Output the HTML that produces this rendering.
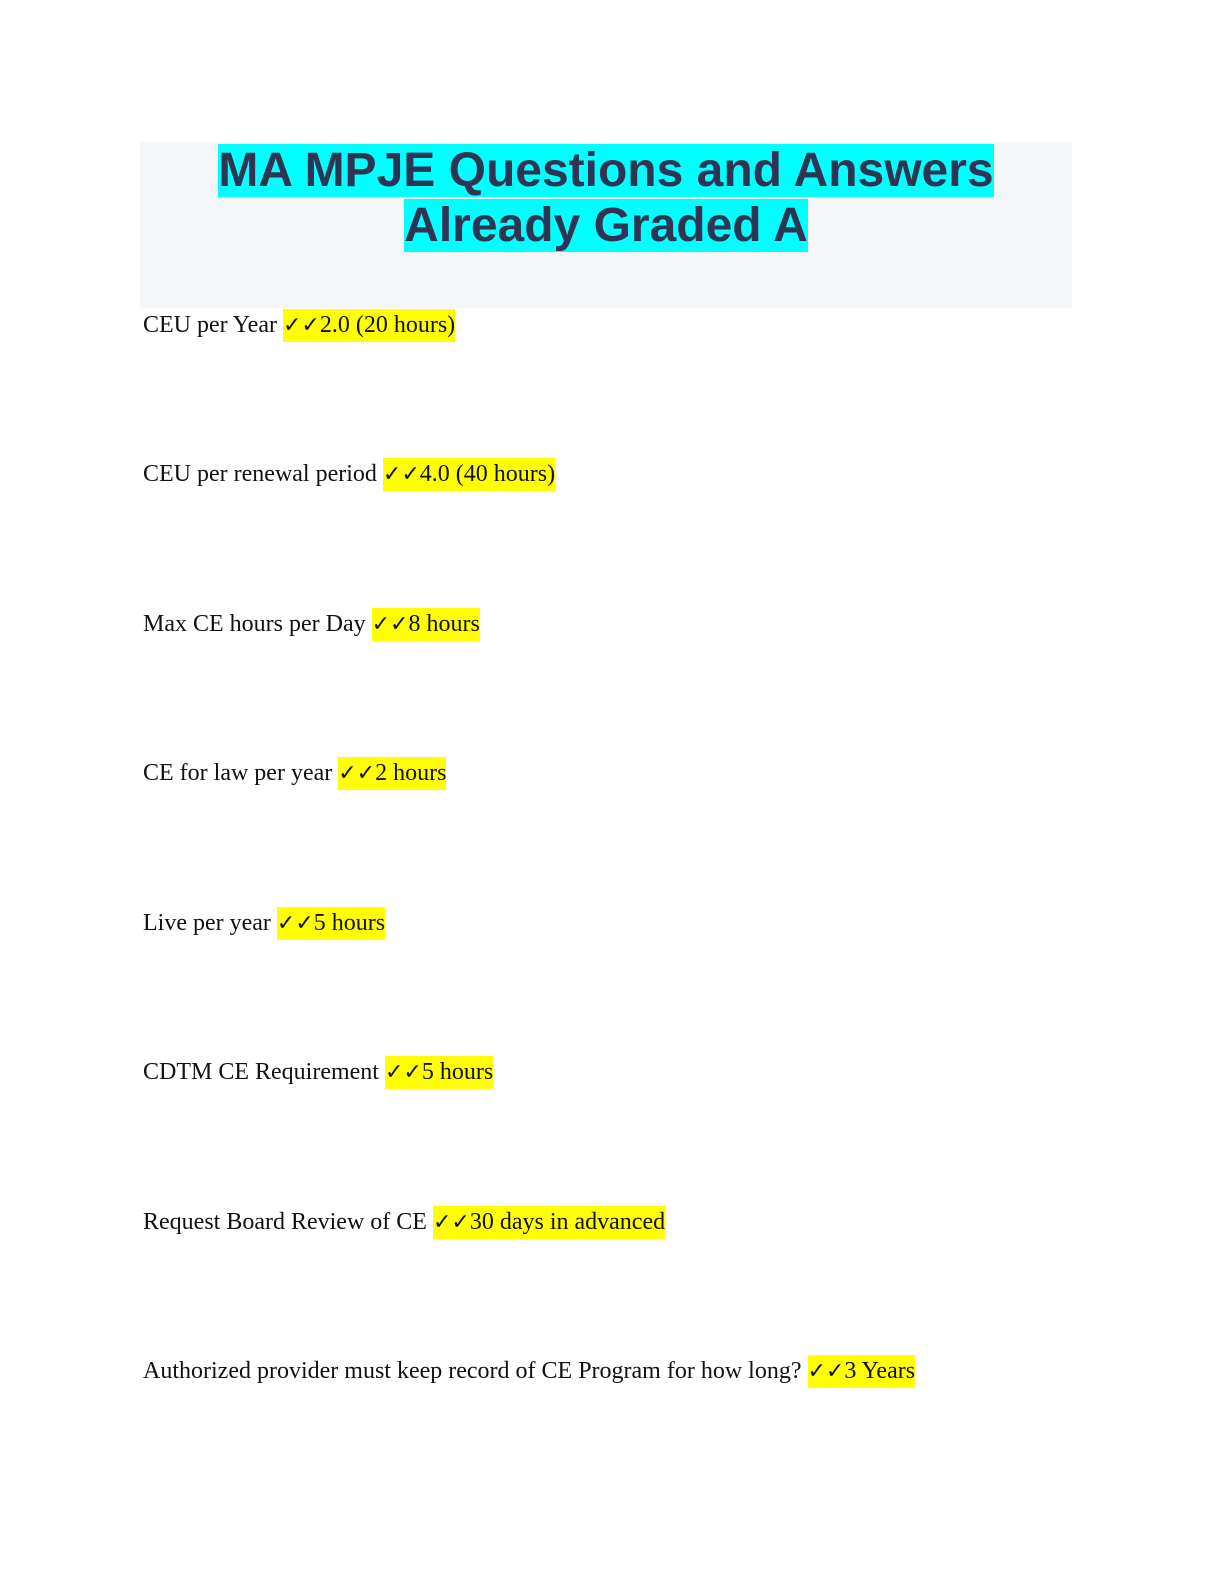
<!DOCTYPE html>
<html><head><meta charset="utf-8"><style>
body{margin:0;width:1224px;height:1584px;background:#fff;position:relative;overflow:hidden}
.box{position:absolute;left:140px;top:142px;width:932px;height:166px;background:#f5f6fa}
.t{position:absolute;left:140px;width:932px;text-align:center;font:bold 48px/55px "Liberation Sans",sans-serif;color:#2e3452}
.t span{background:#00ffff}
.q{position:absolute;left:143px;font:24px/32px "Liberation Serif",serif;color:#111;white-space:nowrap}
.q span{background:#ffff00;display:inline-block;line-height:32px}
.c{font-family:"DejaVu Sans",sans-serif;font-weight:bold;font-size:22px}
</style></head><body>
<div class="box"></div>
<div class="t" style="top:143px"><span>MA MPJE Questions and Answers</span></div>
<div class="t" style="top:198px"><span>Already Graded A</span></div>
<div class="q" style="top:309px">CEU per Year <span><b class="c">✓✓</b>2.0 (20 hours)</span></div>
<div class="q" style="top:458px">CEU per renewal period <span><b class="c">✓✓</b>4.0 (40 hours)</span></div>
<div class="q" style="top:608px">Max CE hours per Day <span><b class="c">✓✓</b>8 hours</span></div>
<div class="q" style="top:757px">CE for law per year <span><b class="c">✓✓</b>2 hours</span></div>
<div class="q" style="top:907px">Live per year <span><b class="c">✓✓</b>5 hours</span></div>
<div class="q" style="top:1056px">CDTM CE Requirement <span><b class="c">✓✓</b>5 hours</span></div>
<div class="q" style="top:1206px">Request Board Review of CE <span><b class="c">✓✓</b>30 days in advanced</span></div>
<div class="q" style="top:1355px">Authorized provider must keep record of CE Program for how long? <span><b class="c">✓✓</b>3 Years</span></div>
</body></html>
